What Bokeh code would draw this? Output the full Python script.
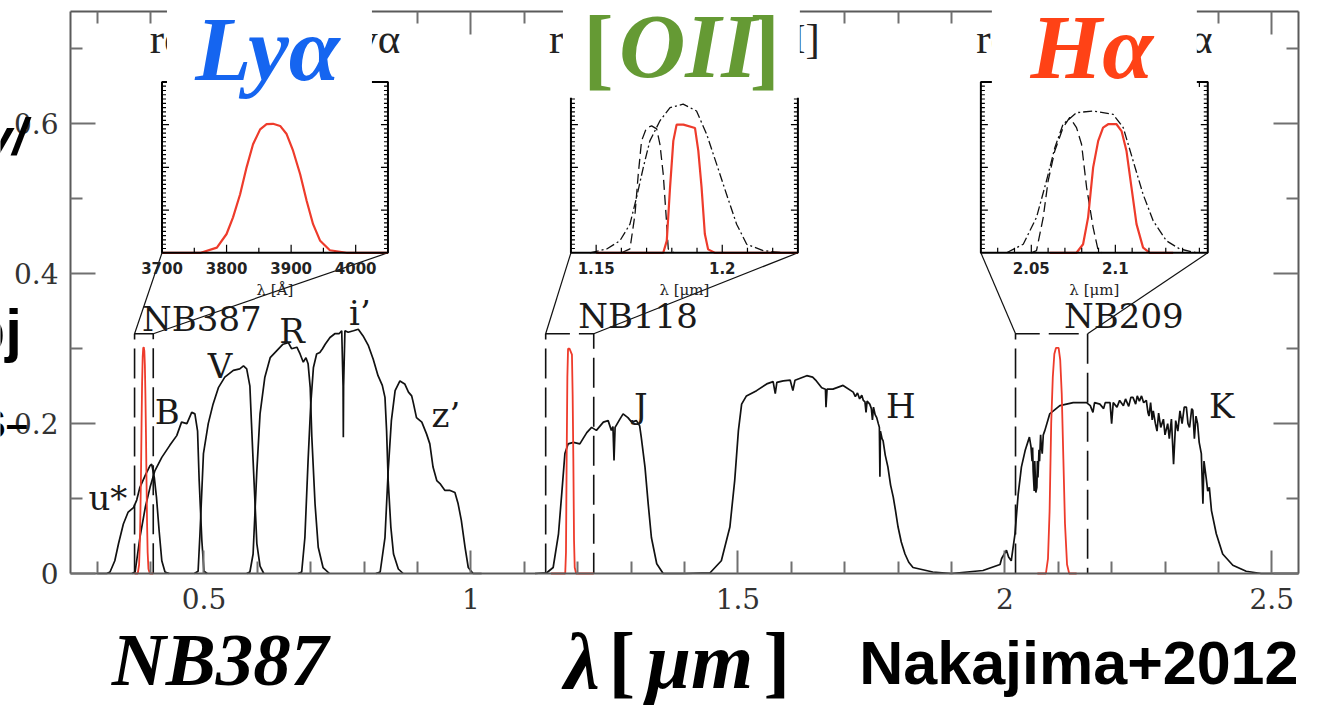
from bokeh.plotting import figure
from bokeh.models import Range1d, LinearAxis, FixedTicker, BoxAnnotation, Label
from bokeh.embed import file_html
from bokeh.resources import INLINE
from bokeh.core.properties import value

# ---------------- broadband filter throughputs (wavelength [um], throughput) ----------------
U_STAR = [(0.300, 0.0), (0.318, 0.0), (0.324, 0.002), (0.333, 0.017), (0.340, 0.040), (0.349, 0.066),
          (0.358, 0.082), (0.368, 0.088), (0.374, 0.098), (0.380, 0.115), (0.390, 0.131), (0.399, 0.144),
          (0.402, 0.146), (0.407, 0.128), (0.411, 0.102), (0.416, 0.057), (0.421, 0.017), (0.427, 0.002),
          (0.435, 0.0)]
B_BAND = [(0.365, 0.0), (0.371, 0.002), (0.380, 0.048), (0.390, 0.088), (0.399, 0.115), (0.408, 0.137),
          (0.421, 0.155), (0.436, 0.171), (0.449, 0.184), (0.458, 0.202), (0.468, 0.200), (0.477, 0.215),
          (0.483, 0.213), (0.488, 0.190), (0.491, 0.124), (0.496, 0.044), (0.500, 0.003), (0.506, 0.0)]
V_BAND = [(0.482, 0.0), (0.489, 0.003), (0.4925, 0.053), (0.499, 0.160), (0.508, 0.200), (0.517, 0.226),
          (0.527, 0.248), (0.539, 0.262), (0.555, 0.271), (0.567, 0.273), (0.574, 0.277), (0.580, 0.273),
          (0.586, 0.250), (0.589, 0.200), (0.592, 0.151), (0.599, 0.040), (0.605, 0.010), (0.612, 0.0)]
R_BAND = [(0.580, 0.0), (0.586, 0.002), (0.592, 0.026), (0.599, 0.137), (0.605, 0.213), (0.614, 0.262),
          (0.624, 0.288), (0.636, 0.297), (0.648, 0.306), (0.658, 0.308), (0.664, 0.300), (0.674, 0.302),
          (0.680, 0.293), (0.686, 0.282), (0.691, 0.288), (0.695, 0.280), (0.699, 0.248), (0.702, 0.182),
          (0.708, 0.093), (0.714, 0.035), (0.723, 0.008), (0.735, 0.0)]
I_BAND = [(0.676, 0.0), (0.683, 0.002), (0.689, 0.048), (0.695, 0.151), (0.700, 0.226), (0.705, 0.275),
          (0.711, 0.293), (0.717, 0.295), (0.722, 0.300), (0.727, 0.306), (0.736, 0.315), (0.745, 0.320),
          (0.753, 0.320), (0.758, 0.324), (0.7605, 0.250), (0.761, 0.182), (0.7615, 0.250), (0.764, 0.324),
          (0.770, 0.322), (0.780, 0.324), (0.789, 0.326), (0.798, 0.317), (0.808, 0.304), (0.817, 0.286),
          (0.826, 0.264), (0.834, 0.251), (0.839, 0.235), (0.842, 0.191), (0.845, 0.124), (0.850, 0.062),
          (0.855, 0.026), (0.864, 0.006), (0.873, 0.0)]
Z_BAND = [(0.822, 0.0), (0.830, 0.002), (0.839, 0.048), (0.845, 0.137), (0.851, 0.204), (0.858, 0.244),
          (0.867, 0.257), (0.876, 0.253), (0.883, 0.242), (0.889, 0.237), (0.892, 0.228), (0.898, 0.208),
          (0.908, 0.202), (0.917, 0.186), (0.923, 0.173), (0.929, 0.142), (0.936, 0.124), (0.942, 0.120),
          (0.951, 0.111), (0.960, 0.111), (0.970, 0.108), (0.976, 0.093), (0.982, 0.071), (0.989, 0.035),
          (0.995, 0.008), (1.004, 0.0), (1.020, 0.0)]
J_BAND = [(1.120, 0.0), (1.142, 0.001), (1.154, 0.008), (1.164, 0.053), (1.170, 0.106), (1.176, 0.160),
          (1.182, 0.173), (1.192, 0.175), (1.204, 0.173), (1.210, 0.180), (1.217, 0.188), (1.226, 0.195),
          (1.235, 0.191), (1.248, 0.202), (1.257, 0.204), (1.263, 0.191), (1.266, 0.196), (1.268, 0.151),
          (1.270, 0.195), (1.279, 0.206), (1.285, 0.213), (1.294, 0.208), (1.301, 0.202), (1.310, 0.204),
          (1.316, 0.197), (1.319, 0.182), (1.326, 0.142), (1.332, 0.093), (1.338, 0.048), (1.348, 0.013),
          (1.360, 0.0), (1.400, 0.0)]
H_BAND = [(1.400, 0.0), (1.448, 0.001), (1.469, 0.017), (1.485, 0.062), (1.494, 0.124), (1.501, 0.191),
          (1.507, 0.226), (1.516, 0.237), (1.535, 0.244), (1.554, 0.253), (1.566, 0.256), (1.570, 0.240),
          (1.573, 0.255), (1.585, 0.257), (1.598, 0.258), (1.603, 0.244), (1.607, 0.258), (1.629, 0.264),
          (1.640, 0.262), (1.647, 0.257), (1.657, 0.248), (1.664, 0.246), (1.665, 0.222), (1.667, 0.246),
          (1.678, 0.246), (1.697, 0.251), (1.716, 0.242), (1.720, 0.236), (1.724, 0.241), (1.728, 0.233),
          (1.732, 0.238), (1.735, 0.231), (1.738, 0.229), (1.740, 0.215), (1.742, 0.230), (1.747, 0.226),
          (1.750, 0.220), (1.752, 0.205), (1.754, 0.222), (1.757, 0.212), (1.760, 0.208), (1.763, 0.200),
          (1.765, 0.195), (1.766, 0.129), (1.767, 0.190), (1.770, 0.180), (1.772, 0.177), (1.776, 0.158),
          (1.781, 0.142), (1.786, 0.118), (1.791, 0.102), (1.795, 0.085), (1.800, 0.062), (1.806, 0.042),
          (1.813, 0.026), (1.820, 0.015), (1.828, 0.008), (1.865, 0.002), (1.900, 0.0)]
K_BAND = [(1.900, 0.0), (1.959, 0.004), (1.991, 0.012), (1.994, 0.020), (2.003, 0.031), (2.007, 0.022),
          (2.012, 0.017), (2.019, 0.053), (2.025, 0.106), (2.031, 0.142), (2.038, 0.164), (2.046, 0.182),
          (2.049, 0.169), (2.051, 0.150), (2.052, 0.168), (2.053, 0.137), (2.055, 0.110), (2.056, 0.150),
          (2.057, 0.130), (2.058, 0.108), (2.060, 0.115), (2.061, 0.150), (2.062, 0.128), (2.064, 0.165),
          (2.065, 0.150), (2.067, 0.185), (2.068, 0.173), (2.070, 0.160), (2.072, 0.185), (2.075, 0.191),
          (2.084, 0.213), (2.103, 0.224), (2.128, 0.228), (2.153, 0.228), (2.160, 0.224), (2.165, 0.215),
          (2.168, 0.228), (2.178, 0.226), (2.185, 0.220), (2.188, 0.228), (2.197, 0.228), (2.200, 0.200),
          (2.203, 0.228), (2.210, 0.222), (2.215, 0.231), (2.222, 0.224), (2.226, 0.233), (2.232, 0.223),
          (2.236, 0.235), (2.240, 0.235), (2.245, 0.226), (2.248, 0.237), (2.252, 0.230), (2.256, 0.237),
          (2.260, 0.228), (2.265, 0.231), (2.268, 0.215), (2.270, 0.210), (2.273, 0.228), (2.276, 0.205),
          (2.278, 0.217), (2.282, 0.200), (2.285, 0.190), (2.288, 0.214), (2.292, 0.195), (2.297, 0.206),
          (2.300, 0.185), (2.305, 0.200), (2.308, 0.180), (2.312, 0.206), (2.316, 0.146), (2.320, 0.204),
          (2.324, 0.190), (2.328, 0.217), (2.332, 0.200), (2.336, 0.222), (2.340, 0.222), (2.343, 0.200),
          (2.346, 0.195), (2.350, 0.220), (2.352, 0.218), (2.355, 0.180), (2.358, 0.210), (2.361, 0.200),
          (2.364, 0.175), (2.368, 0.160), (2.371, 0.093), (2.373, 0.150), (2.377, 0.128), (2.380, 0.110),
          (2.383, 0.115), (2.387, 0.084), (2.396, 0.053), (2.408, 0.026), (2.427, 0.011), (2.452, 0.003),
          (2.480, 0.0), (2.550, 0.0)]
BROADBAND = [U_STAR, B_BAND, V_BAND, R_BAND, I_BAND, Z_BAND, J_BAND, H_BAND, K_BAND]
BAND_NAMES = ["u*", "B", "V", "R", "i’", "z’", "J", "H", "K"]

# ---------------- narrowband filter responses ----------------
NB_NAMES = ["NB387", "NB118", "NB209"]
NB387_RESP = [(3700, 0.0), (3760, 0.0), (3785, 0.012), (3800, 0.044), (3810, 0.083), (3821, 0.137),
              (3831, 0.200), (3841, 0.254), (3852, 0.289), (3862, 0.301), (3872, 0.302), (3883, 0.297),
              (3893, 0.278), (3903, 0.239), (3914, 0.184), (3924, 0.122), (3934, 0.067), (3945, 0.028),
              (3960, 0.006), (3986, 0.0), (4050, 0.0)]  # wavelength in Angstrom
NB118_RESP = [(1.150, 0.0), (1.1766, 0.0), (1.178, 0.028), (1.1793, 0.153), (1.1806, 0.262),
              (1.1819, 0.300), (1.1846, 0.300), (1.1892, 0.292), (1.1905, 0.239), (1.1918, 0.153),
              (1.1931, 0.044), (1.1944, 0.008), (1.197, 0.0), (1.230, 0.0)]
NB209_RESP = [(2.061, 0.0), (2.0769, 0.0), (2.0808, 0.020), (2.0838, 0.083), (2.0868, 0.200),
              (2.0898, 0.262), (2.0927, 0.293), (2.0957, 0.301), (2.1007, 0.301), (2.1037, 0.285),
              (2.1066, 0.239), (2.1096, 0.153), (2.1126, 0.067), (2.1165, 0.012), (2.1205, 0.0),
              (2.1344, 0.0)]
NB_RESP = [NB387_RESP, NB118_RESP, NB209_RESP]
NB_TO_MICRON = [1e-4, 1.0, 1.0]

# comparison profiles shown in the [OII] and Halpha panels
OII_DASH = [(1.160, 0.0), (1.1634, 0.009), (1.1654, 0.090), (1.1667, 0.184), (1.168, 0.262), (1.170, 0.293),
            (1.172, 0.297), (1.174, 0.290), (1.1753, 0.254), (1.1766, 0.184), (1.1777, 0.090),
            (1.1786, 0.009), (1.181, 0.0)]
OII_DASHDOT = [(1.1475, 0.0), (1.1542, 0.009), (1.1594, 0.028), (1.1634, 0.067), (1.166, 0.129),
               (1.1687, 0.200), (1.1713, 0.262), (1.1753, 0.309), (1.1793, 0.340), (1.1845, 0.348),
               (1.1898, 0.332), (1.1938, 0.278), (1.1978, 0.207), (1.2017, 0.137), (1.2057, 0.067),
               (1.2097, 0.020), (1.2162, 0.005), (1.224, 0.0)]
HA_DASH = [(2.050, 0.0), (2.0531, 0.005), (2.0571, 0.083), (2.060, 0.168), (2.064, 0.239), (2.0689, 0.293),
           (2.0729, 0.317), (2.0769, 0.293), (2.0799, 0.254), (2.0829, 0.153), (2.0868, 0.059),
           (2.0898, 0.005), (2.092, 0.0)]
HA_DASHDOT = [(2.0353, 0.0), (2.0452, 0.020), (2.0531, 0.083), (2.059, 0.168), (2.064, 0.246),
              (2.0689, 0.301), (2.0769, 0.328), (2.0868, 0.332), (2.0987, 0.324), (2.1047, 0.293),
              (2.1106, 0.215), (2.1165, 0.137), (2.1225, 0.075), (2.1304, 0.028), (2.1383, 0.009),
              (2.1483, 0.0)]
INSET_DASH = [None, OII_DASH, HA_DASH]
INSET_DASHDOT = [None, OII_DASHDOT, HA_DASHDOT]

# ---------------- axes / ticks ----------------
X_TICKS = [0.5, 1.0, 1.5, 2.0, 2.5]
X_TICK_LABELS = ["0.5", "1", "1.5", "2", "2.5"]
X_MINOR = [0.3, 0.4, 0.6, 0.7, 0.8, 0.9, 1.1, 1.2, 1.3, 1.4, 1.6, 1.7, 1.8, 1.9, 2.1, 2.2, 2.3, 2.4]
Y_TICKS = [0.0, 0.2, 0.4, 0.6]
Y_TICK_LABELS = ["0", "0.2", "0.4", "0.6"]
Y_MINOR = [0.1, 0.3, 0.5, 0.7]

INSET_XLIM = [(3700.0, 4050.0), (1.14, 1.23), (2.02, 2.155)]
INSET_YLIM = (0.0, 0.4)
INSET_XTICKS = [[3750, 3800, 3850, 3900, 3950, 4000],
                [round(1.15 + 0.01 * i, 2) for i in range(8)],
                [round(2.03 + 0.01 * i, 2) for i in range(13)]]
INSET_XTICK_VALUES = [[3700, 3800, 3900, 4000], [1.15, 1.2], [2.05, 2.1]]
INSET_XTICK_LABELS = [["3700", "3800", "3900", "4000"], ["1.15", "1.2"], ["2.05", "2.1"]]
INSET_XLABEL = ["λ [Å]", "λ [μm]", "λ [μm]"]
INSET_TITLE = ["redshifted Lyα", "redshifted [OII]", "redshifted Hα"]

# ---------------- layout ----------------
W, H = 1321, 711
# pixel margins around the framed spectrum panel
BORDER_L, BORDER_R, BORDER_T, BORDER_B = 70, 23, 11, 138
FRAME_W = W - BORDER_L - BORDER_R
FRAME_H = H - BORDER_T - BORDER_B
X_RANGE = (0.25, 2.55)
Y_RANGE = (0.0, 0.75)
PX_PER_X = FRAME_W / (X_RANGE[1] - X_RANGE[0])
PX_PER_Y = FRAME_H / (Y_RANGE[1] - Y_RANGE[0])
# the plotting area spans the whole canvas so that captions below the panel are drawable
CANVAS_X = (X_RANGE[0] - BORDER_L / PX_PER_X, X_RANGE[1] + BORDER_R / PX_PER_X)
CANVAS_Y = (Y_RANGE[0] - BORDER_B / PX_PER_Y, Y_RANGE[1] + BORDER_T / PX_PER_Y)

INSET_FRAME_X = [(0.4214, 0.8446), (1.1873, 1.6124), (1.9551, 2.3801)]
INSET_FRAME_Y = (0.428, 0.656)
NB_BOX_TOP = 0.32

INK = "#111111"
RED = "#ee3b2b"
AXIS_GREY = "#5a5a5a"
TICK_GREY = "#707070"

p = figure(width=W, height=H, x_range=Range1d(*CANVAS_X), y_range=Range1d(*CANVAS_Y),
           x_axis_type=None, y_axis_type=None, output_backend="svg", toolbar_location=None,
           min_border=0, min_border_left=0, min_border_right=0,
           min_border_top=0, min_border_bottom=0)
p.outline_line_color = None
p.background_fill_color = "white"
p.border_fill_color = "white"


def frame_axis(ticks, minor, labels, major_len, minor_len, standoff, at, bounds):
    ax = LinearAxis(ticker=FixedTicker(ticks=ticks, minor_ticks=minor))
    ax.fixed_location = at
    ax.bounds = bounds
    ax.axis_line_color = AXIS_GREY
    ax.axis_line_width = 2
    ax.major_tick_in = major_len
    ax.major_tick_out = 0
    ax.minor_tick_in = minor_len
    ax.minor_tick_out = 0
    ax.major_tick_line_color = TICK_GREY
    ax.major_tick_line_width = 2
    ax.minor_tick_line_color = TICK_GREY
    ax.minor_tick_line_width = 2
    if labels is None:
        ax.major_label_text_font_size = "0px"
        ax.major_label_standoff = 0
    else:
        ax.major_label_overrides = dict(zip(ticks, labels))
        ax.major_label_text_font = "DejaVu Serif"
        ax.major_label_text_font_size = "28px"
        ax.major_label_text_color = "#333333"
        ax.major_label_standoff = standoff
    return ax


p.add_layout(frame_axis(X_TICKS, X_MINOR, X_TICK_LABELS, 23, 12, 14, Y_RANGE[0], X_RANGE), "below")
p.add_layout(frame_axis(X_TICKS, X_MINOR, None, 23, 12, 0, Y_RANGE[1], X_RANGE), "above")
p.add_layout(frame_axis(Y_TICKS, Y_MINOR, Y_TICK_LABELS, 25, 12, 12, X_RANGE[0], Y_RANGE), "left")
p.add_layout(frame_axis(Y_TICKS, Y_MINOR, None, 25, 12, 0, X_RANGE[1], Y_RANGE), "right")


def unzip(pairs, scale=1.0):
    return [a * scale for a, _ in pairs], [b for _, b in pairs]


# broadband curves
for pairs in BROADBAND:
    xs, ys = unzip(pairs)
    p.line(xs, ys, line_color=INK, line_width=1.7)

# dashed windows around the narrowbands and the lines leading to the zoom panels
for k in range(3):
    lo = INSET_XLIM[k][0] * NB_TO_MICRON[k]
    hi = INSET_XLIM[k][1] * NB_TO_MICRON[k]
    p.line([lo, lo, hi, hi], [0.0, NB_BOX_TOP, NB_BOX_TOP, 0.0], line_color=INK,
           line_width=1.6, line_dash="30 9")
    fx0, fx1 = INSET_FRAME_X[k]
    p.segment(x0=[lo, hi], y0=[NB_BOX_TOP, NB_BOX_TOP], x1=[fx0, fx1],
              y1=[INSET_FRAME_Y[0], INSET_FRAME_Y[0]], line_color=INK, line_width=1.2)

# narrowband curves on the main panel
for k in range(3):
    xs, ys = unzip(NB_RESP[k], NB_TO_MICRON[k])
    p.line(xs, ys, line_color=RED, line_width=1.8)

# filter names
BAND_LABEL_X = [0.320, 0.431, 0.530, 0.665, 0.792, 0.953, 1.318, 1.805, 2.406]
BAND_LABEL_Y = [0.101, 0.215, 0.277, 0.323, 0.347, 0.211, 0.224, 0.223, 0.224]
p.text(x=BAND_LABEL_X, y=BAND_LABEL_Y, text=BAND_NAMES, text_font=value("DejaVu Serif"),
       text_font_size="34px", text_align="center", text_baseline="middle", text_color="#1a1a1a")
NB_LABEL_X = [0.496, 1.313, 2.223]
NB_LABEL_Y = [0.340, 0.344, 0.344]
p.text(x=NB_LABEL_X, y=NB_LABEL_Y, text=NB_NAMES, text_font=value("DejaVu Serif"),
       text_font_size="34px", text_align="center", text_baseline="middle", text_color="#1a1a1a")


# ---------------- zoom panels (own ranges mapped onto part of the canvas) ----------------
def inset_range(lims, frame, main):
    lo, hi = lims
    m0, m1 = main
    a = (frame[0] - m0) / (m1 - m0)
    b = (frame[1] - m0) / (m1 - m0)
    span = (hi - lo) / (b - a)
    start = lo - a * span
    return Range1d(start=start, end=start + span)


inset_px_h = (INSET_FRAME_Y[1] - INSET_FRAME_Y[0]) * PX_PER_Y
for k in range(3):
    xr, yr = f"zoom{k}_x", f"zoom{k}_y"
    p.extra_x_ranges[xr] = inset_range(INSET_XLIM[k], INSET_FRAME_X[k], CANVAS_X)
    p.extra_y_ranges[yr] = inset_range(INSET_YLIM, INSET_FRAME_Y, CANVAS_Y)
    xlo, xhi = INSET_XLIM[k]
    ylo, yhi = INSET_YLIM
    inset_px_w = (INSET_FRAME_X[k][1] - INSET_FRAME_X[k][0]) * PX_PER_X
    ux = (xhi - xlo) / inset_px_w
    uy = (yhi - ylo) / inset_px_h
    kw = dict(x_range_name=xr, y_range_name=yr)

    # comparison profiles, then the filter response
    if INSET_DASHDOT[k] is not None:
        xs, ys = unzip(INSET_DASHDOT[k])
        p.line(xs, ys, line_color=INK, line_width=1.3, line_dash="9 3 2 3", **kw)
        xs, ys = unzip(INSET_DASH[k])
        p.line(xs, ys, line_color=INK, line_width=1.3, line_dash="10 5", **kw)
    xs, ys = unzip(NB_RESP[k])
    p.line(xs, ys, line_color=RED, line_width=2.2, **kw)

    # panel frame
    p.quad(left=[xlo], right=[xhi], bottom=[ylo], top=[yhi], fill_color=None,
           line_color="black", line_width=2, **kw)

    # y ticks on both sides (major every 0.1, minor every 0.01)
    yv = [i / 100 for i in range(1, 40)]
    ylen = [7 if i % 10 == 0 else 4 for i in range(1, 40)]
    p.segment(x0=[xlo] * len(yv) + [xhi] * len(yv), y0=yv + yv,
              x1=[xlo + L * ux for L in ylen] + [xhi - L * ux for L in ylen], y1=yv + yv,
              line_color="black", line_width=1.2, **kw)

    # x ticks on bottom and top
    xt = INSET_XTICKS[k]
    xlen = [8 if any(abs(v - m) < 1e-9 for m in INSET_XTICK_VALUES[k]) else 5 for v in xt]
    p.segment(x0=xt + xt, y0=[ylo] * len(xt) + [yhi] * len(xt), x1=xt + xt,
              y1=[ylo + L * uy for L in xlen] + [yhi - L * uy for L in xlen],
              line_color="black", line_width=1.2, **kw)

    # tick labels, axis label and title
    p.text(x=INSET_XTICK_VALUES[k], y=[ylo - 9 * uy] * len(INSET_XTICK_VALUES[k]),
           text=INSET_XTICK_LABELS[k], text_font=value("DejaVu Sans"), text_font_style="bold",
           text_font_size="15px", text_align="center", text_baseline="top", text_color="#222222", **kw)
    p.text(x=[(xlo + xhi) / 2], y=[ylo - 37 * uy], text=[INSET_XLABEL[k]],
           text_font=value("DejaVu Serif"), text_font_size="15px", text_align="center",
           text_baseline="middle", text_color="#222222", **kw)
    p.text(x=[(xlo + xhi) / 2], y=[ylo + 214 * uy], text=[INSET_TITLE[k]],
           text_font=value("Liberation Serif"), text_font_size="43px", text_align="center",
           text_baseline="middle", text_color="#222222", **kw)

# ---------------- emission-line tags on white plates ----------------
PLATE_X = [(0.4307, 0.8146), (1.1723, 1.6161), (1.9757, 2.3596)]
PLATE_BOTTOM = 0.635
for x0, x1 in PLATE_X:
    p.add_layout(BoxAnnotation(left=x0, right=x1, bottom=PLATE_BOTTOM, top=CANVAS_Y[1] + 0.05,
                               fill_color="white", fill_alpha=1.0, line_color=None,
                               level="overlay"))

TAG_FONT = "Liberation Serif"
TAGS = [  # text, x, y (middle of the glyphs), colour, style
    ("Lyα", 0.6189, 0.700, "#1565f0", "bold italic"),
    ("[", 1.2388, 0.702, "#659a34", "bold"),
    ("OII", 1.4064, 0.704, "#659a34", "bold italic"),
    ("]", 1.5506, 0.702, "#659a34", "bold"),
    ("Hα", 2.1629, 0.702, "#ff4216", "bold italic"),
]
for txt, x, y, col, style in TAGS:
    p.add_layout(Label(x=x, y=y, text=txt, text_font=TAG_FONT, text_font_size="92px",
                       text_font_style=style, text_color=col, text_align="center",
                       text_baseline="middle", level="overlay"))

# ---------------- captions under the panel ----------------
CAPTIONS = [  # text, x, y (middle), font, size, style
    ("NB387", 0.530, -0.1154, "Liberation Serif", "75px", "bold italic"),
    ("λ", 1.2079, -0.1174, "Liberation Serif", "80px", "bold italic"),
    ("[", 1.2828, -0.1174, "Liberation Serif", "80px", "bold"),
    ("μm", 1.4288, -0.1174, "Liberation Serif", "80px", "bold italic"),
    ("]", 1.5730, -0.1174, "Liberation Serif", "80px", "bold"),
    ("Nakajima+2012", 2.1386, -0.1188, "Liberation Sans", "61px", "bold"),
]
for txt, x, y, font, size, style in CAPTIONS:
    p.add_layout(Label(x=x, y=y, text=txt, text_font=font, text_font_size=size,
                       text_font_style=style, text_color="black", text_align="center",
                       text_baseline="middle", level="overlay"))

# fragments of a neighbouring slide's text at the left edge
EDGE_TEXT = [
    ("y/", 0.1685, 0.5828, "52px", "bold italic"),
    ("Obj", 0.1590, 0.3248, "60px", "bold"),
    ("S–", 0.1704, 0.1996, "40px", "bold"),
]
for txt, x, y, size, style in EDGE_TEXT:
    p.add_layout(Label(x=x, y=y, text=txt, text_font="Liberation Sans", text_font_size=size,
                       text_font_style=style, text_color="black", text_align="right",
                       text_baseline="middle", level="overlay"))

open("out.html", "w").write(file_html(p, INLINE))
